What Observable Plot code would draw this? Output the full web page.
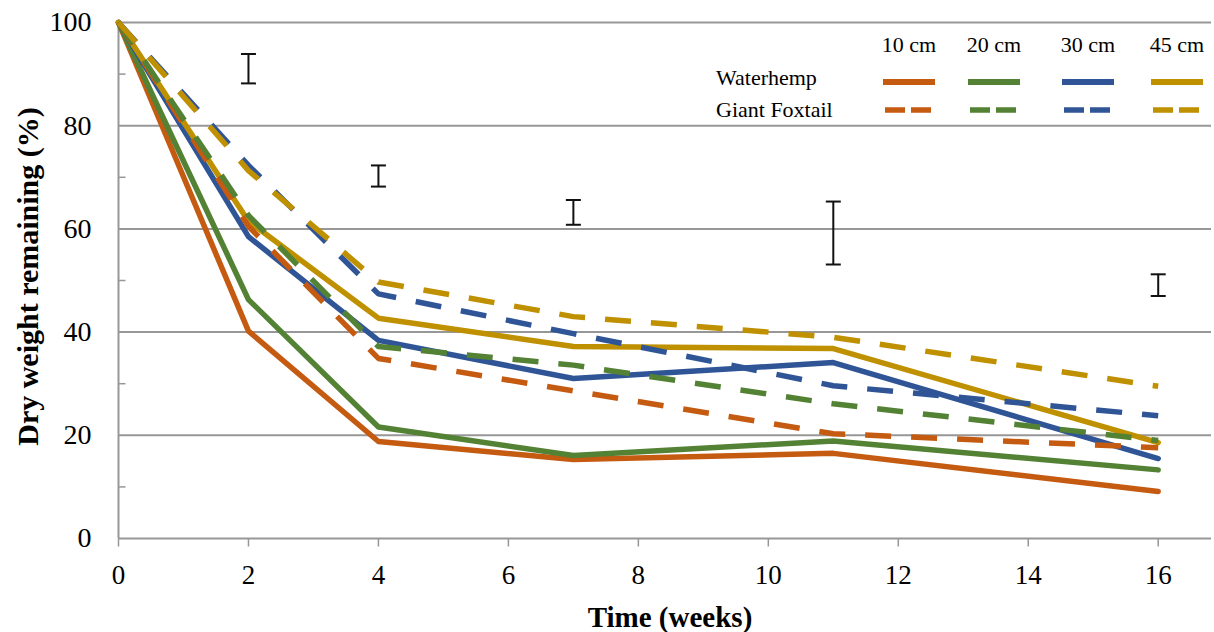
<!DOCTYPE html>
<html>
<head>
<meta charset="utf-8">
<script src="https://cdn.jsdelivr.net/npm/d3@7"></script>
<script src="https://cdn.jsdelivr.net/npm/@observablehq/plot@0.6"></script>
<style>
  html, body { margin: 0; padding: 0; background: #fff; }
  #wrap { position: relative; width: 1214px; height: 632px; overflow: hidden; }
  #wrap svg, #wrap svg text { font-family: "Liberation Serif", "Times New Roman", serif !important; }
  #legend { position: absolute; left: 0; top: 0; }
</style>
</head>
<body>
<div id="wrap"></div>
<script>
// ---- data ----
const weeks = [0, 2, 4, 7, 11, 16];
const depths = ["10 cm", "20 cm", "30 cm", "45 cm"];
const depthColors = ["#C55A11", "#548235", "#2F5597", "#BF9000"];
const species = ["Waterhemp", "Giant Foxtail"];

const waterhemp10 = [100, 40.2, 18.8, 15.3, 16.5, 9.1];
const waterhemp20 = [100, 46.3, 21.6, 16.1, 18.9, 13.3];
const waterhemp30 = [100, 58.5, 38.4, 31.0, 34.1, 15.5];
const waterhemp45 = [100, 61.5, 42.7, 37.2, 36.8, 18.6];

const foxtail10 = [100, 60.5, 34.9, 28.6, 20.3, 17.6];
const foxtail20 = [100, 62.6, 37.2, 33.6, 26.1, 19.0];
const foxtail30 = [100, 72.3, 47.4, 39.7, 29.6, 23.8];
const foxtail45 = [100, 71.3, 49.7, 43.0, 39.0, 29.5];

const errWeeks = [2, 4, 7, 11, 16];
const errLow  = [88.2, 68.2, 60.8, 53.1, 47.0];
const errHigh = [93.9, 72.3, 65.6, 65.3, 51.2];

const yTicks = [0, 20, 40, 60, 80, 100];
const yMinorTicks = [10, 30, 50, 70, 90];
const xTicks = [0, 2, 4, 6, 8, 10, 12, 14, 16];

// ---- build tables ----
const waterhempSeries = [waterhemp10, waterhemp20, waterhemp30, waterhemp45];
const foxtailSeries = [foxtail10, foxtail20, foxtail30, foxtail45];
function rows(seriesList, sp) {
  const out = [];
  seriesList.forEach((vals, i) => {
    vals.forEach((v, j) => out.push({species: sp, depth: depths[i], color: depthColors[i], week: weeks[j], value: v}));
  });
  return out;
}
const solidRows = rows(waterhempSeries, species[0]);
const dashedRows = rows(foxtailSeries, species[1]);
const errRows = errWeeks.map((w, i) => ({week: w, lo: errLow[i], hi: errHigh[i]}));

const gray = "#979797";
const serif = "'Liberation Serif', 'Times New Roman', serif";
const capSymbol = { draw(ctx) { ctx.moveTo(-7.5, 0); ctx.lineTo(7.5, 0); } };
const minorTickSymbol = { draw(ctx) { ctx.moveTo(0, 0); ctx.lineTo(7, 0); } };
const xTickSymbol = { draw(ctx) { ctx.moveTo(0, 0); ctx.lineTo(0, 8); } };

const chart = Plot.plot({
  width: 1214,
  height: 632,
  marginTop: 22,
  marginBottom: 94,
  marginLeft: 118,
  marginRight: 3,
  x: { domain: [0, 16.82] },
  y: { domain: [0, 100] },
  color: { type: "identity" },
  style: { fontFamily: serif, background: "#fff", color: "#000" },
  marks: [
    Plot.gridY([20, 40, 60, 80, 100], { stroke: gray, strokeOpacity: 1, strokeWidth: 2 }),
    Plot.ruleY([0], { stroke: gray, strokeWidth: 2 }),
    Plot.ruleX([0], { stroke: gray, strokeWidth: 2 }),
    Plot.dot(yMinorTicks, { x: () => 0, y: d => d, symbol: minorTickSymbol, stroke: gray, strokeWidth: 1.5, r: 4 }),
    Plot.dot(xTicks, { x: d => d, y: () => 0, symbol: xTickSymbol, stroke: gray, strokeWidth: 1.5, r: 4 }),
    Plot.axisY({ ticks: yTicks, tickSize: 0, tickPadding: 27, fontSize: 28, fontFamily: serif, label: null }),
    Plot.axisX({ ticks: xTicks, tickSize: 0, tickPadding: 26, fontSize: 27, fontFamily: serif, label: null }),
    Plot.line(solidRows, {
      x: "week", y: "value", z: "depth", stroke: "color",
      strokeWidth: 5.5, strokeLinecap: "round", strokeLinejoin: "round"
    }),
    Plot.line(dashedRows, {
      x: "week", y: "value", z: "depth", stroke: "color",
      strokeWidth: 5.5, strokeDasharray: "26,20", strokeLinecap: "butt", strokeLinejoin: "round"
    }),
    Plot.ruleX(errRows, { x: "week", y1: "lo", y2: "hi", stroke: "#111", strokeWidth: 2 }),
    Plot.dot(errRows, { x: "week", y: "lo", symbol: capSymbol, stroke: "#111", strokeWidth: 2, r: 4 }),
    Plot.dot(errRows, { x: "week", y: "hi", symbol: capSymbol, stroke: "#111", strokeWidth: 2, r: 4 }),
    Plot.text(["Time (weeks)"], { text: d => d, frameAnchor: "bottom", lineAnchor: "bottom", dx: 5, dy: 88, fontSize: 29, fontWeight: "bold", fontFamily: serif }),
    Plot.text(["Dry weight remaining (%)"], { text: d => d, frameAnchor: "left", textAnchor: "middle", lineAnchor: "middle", rotate: -90, dx: -90, dy: -4, fontSize: 30, fontWeight: "bold", fontFamily: serif })
  ]
});

const wrap = document.getElementById("wrap");
wrap.appendChild(chart);

// ---- legend overlay ----
const legendCenters = [909, 994, 1088, 1177];
const legendHalf = 26;
const svg = d3.select(wrap).append("svg")
  .attr("id", "legend").attr("width", 1214).attr("height", 632)
  .style("font-family", serif);
svg.selectAll("text.hdr").data(depths).join("text")
  .attr("class", "hdr")
  .attr("x", (d, i) => legendCenters[i]).attr("y", 52)
  .attr("text-anchor", "middle").attr("font-size", 22).text(d => d);
svg.selectAll("text.sp").data(species).join("text")
  .attr("class", "sp")
  .attr("x", 716).attr("y", (d, i) => i === 0 ? 85 : 117)
  .attr("font-size", 22).text(d => d);
svg.selectAll("line.solid").data(depthColors).join("line")
  .attr("class", "solid")
  .attr("x1", (d, i) => legendCenters[i] - legendHalf).attr("x2", (d, i) => legendCenters[i] + legendHalf)
  .attr("y1", 82).attr("y2", 82).attr("stroke", d => d).attr("stroke-width", 6);
svg.selectAll("line.dash").data(depthColors).join("line")
  .attr("class", "dash")
  .attr("x1", (d, i) => legendCenters[i] - 24).attr("x2", (d, i) => legendCenters[i] + 22)
  .attr("y1", 110).attr("y2", 110).attr("stroke", d => d).attr("stroke-width", 5.5)
  .attr("stroke-dasharray", "20,6");
</script>
</body>
</html>
